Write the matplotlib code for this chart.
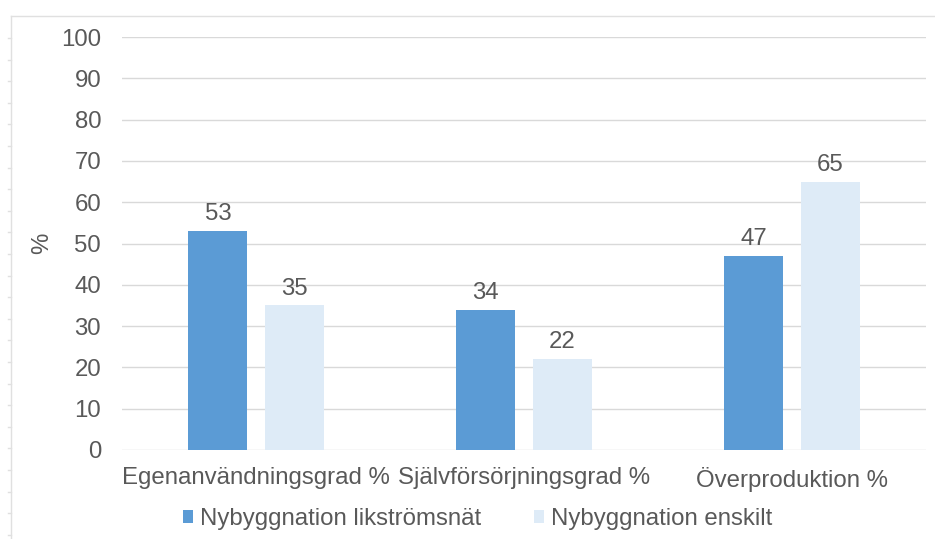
import numpy as np
import matplotlib.pyplot as plt
from matplotlib.lines import Line2D

plt.rcParams['font.family'] = ['Liberation Sans', 'DejaVu Sans']

# Data
categories = ['Egenanvändningsgrad %', 'Självförsörjningsgrad %', 'Överproduktion %']
series_names = ['Nybyggnation likströmsnät', 'Nybyggnation enskilt']
likstrom = [53, 34, 47]
enskilt = [35, 22, 65]

dark = '#5B9BD5'
light = '#DEEBF7'
text_col = '#595959'
fs = 17.3

W, H = 935, 539
fig = plt.figure(figsize=(W / 100, H / 100), dpi=100)
ax = fig.add_axes([122 / W, 1 - 450 / H, 804 / W, 413 / H])

x = np.arange(len(categories))
w = 0.22
off = 0.142
b1 = ax.bar(x - off, likstrom, w, color=dark, label=series_names[0], zorder=3)
b2 = ax.bar(x + off, enskilt, w, color=light, label=series_names[1], zorder=3)

for bars, vals in ((b1, likstrom), (b2, enskilt)):
    for r, v in zip(bars, vals):
        ax.text(r.get_x() + r.get_width() / 2, v + 1.4, str(v),
                ha='center', va='bottom', fontsize=fs, color=text_col)

ax.set_xlim(-0.5, 2.5)
ax.set_ylim(0, 100)
ax.set_yticks(np.arange(0, 101, 10))
ax.set_xticks(x)
ax.set_xticklabels(categories)
ax.tick_params(axis='both', length=0, labelsize=fs, labelcolor=text_col)
ax.tick_params(axis='y', pad=15)
ax.tick_params(axis='x', pad=12)
ax.yaxis.grid(True, color='#D9D9D9', linewidth=1)
ax.set_axisbelow(True)
for s in ax.spines.values():
    s.set_visible(False)

fig.text(42 / W, 1 - 243 / H, '%', rotation=90, ha='center', va='center',
         fontsize=fs, color=text_col)

ax.legend(loc='center', bbox_to_anchor=(0.5 + 10 / W, 1 - 519 / H), bbox_transform=fig.transFigure,
          ncol=2, frameon=False, fontsize=fs, labelcolor=text_col,
          handlelength=0.42, handleheight=0.42, handletextpad=0.3, columnspacing=2.2)

# faint page frame
frame = '#E0E0E0'
fig.add_artist(Line2D([11 / W, 1], [1 - 16 / H, 1 - 16 / H], color=frame, lw=1, transform=fig.transFigure))
fig.add_artist(Line2D([11 / W, 11 / W], [0, 1 - 16 / H], color=frame, lw=1, transform=fig.transFigure))
for yy in np.arange(38, 539, 21.6):
    fig.add_artist(Line2D([8 / W, 11 / W], [1 - yy / H, 1 - yy / H], color=frame, lw=1,
                          transform=fig.transFigure))

fig.savefig('out.png', dpi=100)
